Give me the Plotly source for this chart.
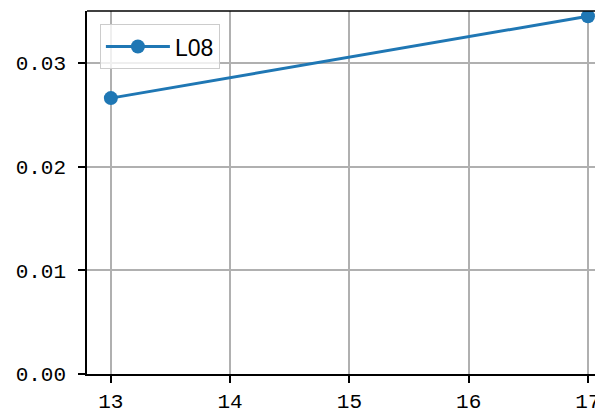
import plotly.graph_objects as go

x_vals = [13, 17]
y_vals = [0.0266, 0.0345]
series_name = "L08"
x_ticks = [13, 14, 15, 16, 17]
y_ticks = [0.00, 0.01, 0.02, 0.03]
y_tick_labels = ["0.00", "0.01", "0.02", "0.03"]

fig = go.Figure()
fig.add_trace(go.Scatter(
    x=x_vals, y=y_vals, mode="lines+markers", name=series_name,
    line=dict(color="#1f77b4", width=3),
    marker=dict(color="#1f77b4", size=14),
))

tick_font = dict(family="Liberation Mono", size=21, color="black")
# page body has an 8px default margin, so the figure is offset by 8px
fig.update_layout(
    width=595, height=408,
    margin=dict(l=79, r=0, t=3, b=42),
    plot_bgcolor="white", paper_bgcolor="white",
    showlegend=True,
    legend=dict(x=0.025, y=0.964, xanchor="left", yanchor="top",
                bgcolor="rgba(255,255,255,0.8)", bordercolor="#cccccc", borderwidth=1,
                itemwidth=64,
                font=dict(family="Liberation Sans", size=23, color="black")),
    xaxis=dict(range=[12.8, 17.126], tickvals=x_ticks, ticks="outside", ticklen=7,
               tickwidth=1.5, tickcolor="black", showline=True, linecolor="black", linewidth=1.5,
               showgrid=True, gridcolor="#b0b0b0", gridwidth=1.5, zeroline=False,
               tickfont=tick_font, automargin=False, ticklabelstandoff=0),
    yaxis=dict(range=[0, 0.035], tickvals=y_ticks, ticktext=y_tick_labels, ticks="outside",
               ticklen=7, tickwidth=1.5, tickcolor="black", showline=True, linecolor="black",
               linewidth=1.5, showgrid=True, gridcolor="#b0b0b0", gridwidth=1.5, zeroline=False,
               tickfont=tick_font, automargin=False, ticklabelstandoff=8),
    shapes=[dict(type="line", xref="paper", yref="paper", x0=0, x1=1, y0=1, y1=1,
                 line=dict(color="black", width=1.5))],
)
fig.write_html("out.html")
